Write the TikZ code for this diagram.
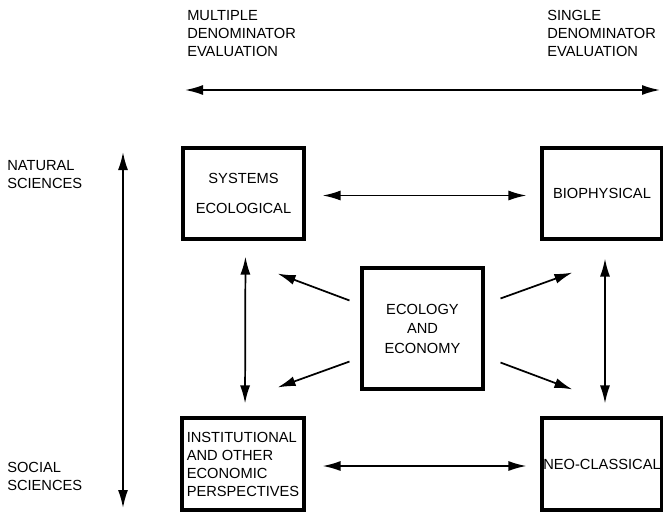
\documentclass[tikz,border=0pt]{standalone}
\usepackage{fontspec}
\setmainfont{Liberation Sans}
\usetikzlibrary{arrows.meta}

\begin{document}
\begin{tikzpicture}[x=0.75pt, y=-0.75pt,
                box/.style={draw, line width=2.3pt, inner sep=0pt, font=\fontsize{11}{13.5}\selectfont},
                arrow/.style={{Latex[length=13.5pt,width=7.5pt]}-{Latex[length=13.5pt,width=7.5pt]}, line width=1.3pt},
                oneway/.style={-{Latex[length=13.5pt,width=7.5pt]}, line width=1.3pt},
                lbl/.style={anchor=north west, inner sep=0pt, align=left, font=\fontsize{11}{13.5}\selectfont}]

                \useasboundingbox (0,0) rectangle (663,511);

                % Axes
                \coordinate (mde) at (185,90);
                \coordinate (sde) at (660,90);
                \coordinate (nat) at (123,152);
                \coordinate (soc) at (123,508);
                \draw[arrow] (mde) -- (sde);
                \draw[arrow] (nat) -- (soc);

                \node[lbl] (mdetxt) at (187,10) {MULTIPLE\\DENOMINATOR\\EVALUATION};
                \node[lbl] (sdetxt) at (547,10) {SINGLE\\DENOMINATOR\\EVALUATION};
                \node[lbl] (nattxt) at (7,160) {NATURAL\\SCIENCES};
                \node[lbl] (soctxt) at (7,462) {SOCIAL\\SCIENCES};

                % Entities
                \node[box, minimum width=90.75pt, minimum height=68.25pt, align=center,
                      font=\fontsize{11}{22.5}\selectfont] (sys) at (243.5,193.5) {SYSTEMS\\ECOLOGICAL};
                \node[box, minimum width=90pt, minimum height=68.25pt] (bio) at (602,193.5) {BIOPHYSICAL};
                \node[box, minimum width=91.5pt, minimum height=69pt, align=left] (inst) at (243,464)
                    {INSTITUTIONAL\\AND OTHER\\ECONOMIC\\PERSPECTIVES};
                \node[box, minimum width=90pt, minimum height=69pt] (neo) at (602,464) {NEO-CLASSICAL};
                \node[box, minimum width=90.75pt, minimum height=90.75pt, align=center,
                      font=\fontsize{11}{14.6}\selectfont] (eco) at (422.5,328.5) {ECOLOGY\\AND\\ECONOMY};

                % Arrows between the boxes
                \draw[arrow, shorten <=12.75pt, shorten >=10.5pt] ([shift={(0,2)}]sys.east) -- ([shift={(0,2)}]bio.west);
                \draw[arrow, shorten <=12.75pt, shorten >=10.5pt] ([shift={(0,2)}]inst.east) -- ([shift={(0,2)}]neo.west);
                \draw[arrow, shorten <=12pt, shorten >=9.75pt] ([shift={(2,0)}]sys.south) -- ([shift={(2,0)}]inst.north);
                \draw[arrow, shorten <=13.5pt, shorten >=9.75pt] ([shift={(3,0)}]bio.south) -- ([shift={(3,0)}]neo.north);

                % Arrows out of the centre
                \draw[oneway] ([shift={(-11,34)}]eco.north west) -- ([shift={(-28,33)}]sys.south east);
                \draw[oneway] ([shift={(-11,-29)}]eco.south west) -- ([shift={(-28,-29)}]inst.north east);
                \draw[oneway] ([shift={(16,32)}]eco.north east) -- ([shift={(32,32)}]bio.south west);
                \draw[oneway] ([shift={(16,-28)}]eco.south east) -- ([shift={(32,-27)}]neo.north west);
            \end{tikzpicture}
\end{document}
